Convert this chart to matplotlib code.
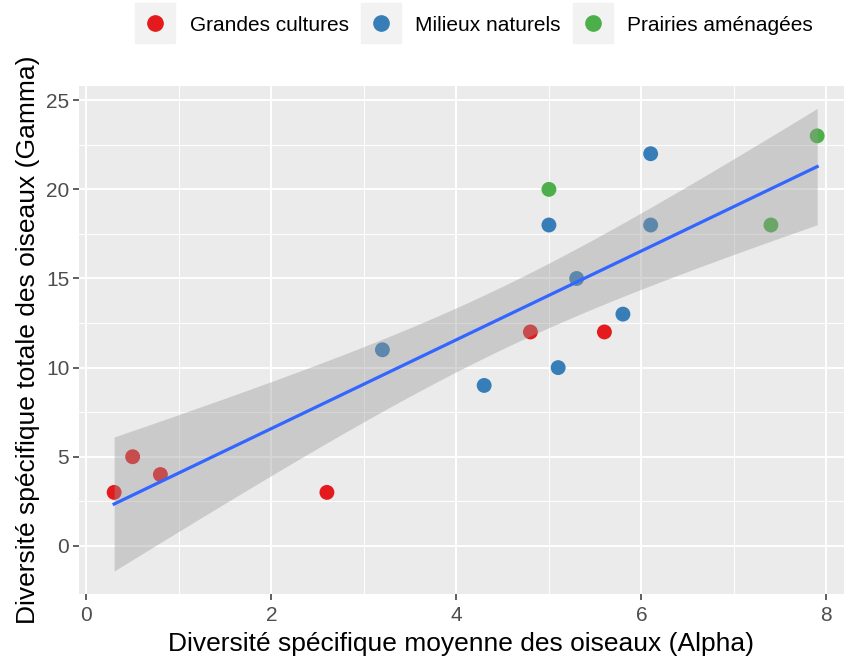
import numpy as np
import matplotlib
matplotlib.use('Agg')
import matplotlib.pyplot as plt
from matplotlib.lines import Line2D
from matplotlib.legend_handler import HandlerTuple

# DATA

GROUPS = ['Grandes cultures', 'Milieux naturels', 'Prairies aménagées']
ALPHA_GC = [0.3, 0.5, 0.8, 2.6, 4.8, 5.6]
GAMMA_GC = [3, 5, 4, 3, 12, 12]
ALPHA_MN = [3.2, 4.3, 5.0, 5.1, 5.3, 5.8, 6.1, 6.1]
GAMMA_MN = [11, 9, 18, 10, 15, 13, 22, 18]
ALPHA_PA = [5.0, 7.4, 7.9]
GAMMA_PA = [20, 18, 23]

# VISUAL PARAMETERS

COLOURS = ['#E41A1C', '#377EB8', '#4DAF4A']
LINE_COLOUR = '#3366FF'
PANEL_BG = '#EBEBEB'
TICK_COLOUR = '#4D4D4D'
T_975 = 2.131  # t quantile, 15 df

plt.rcParams['font.family'] = ['Liberation Sans', 'DejaVu Sans']

fig = plt.figure(figsize=(8.44, 6.65), dpi=100)
ax = fig.add_axes([0.0936, 0.1068, 0.9064, 0.7639])
ax.set_facecolor(PANEL_BG)
for s in ax.spines.values():
    s.set_visible(False)

xs = [ALPHA_GC, ALPHA_MN, ALPHA_PA]
ys = [GAMMA_GC, GAMMA_MN, GAMMA_PA]
for xv, yv, c in zip(xs, ys, COLOURS):
    ax.scatter(xv, yv, s=115, color=c, edgecolors='none', zorder=3)

# linear fit + 95% band (geom_smooth method='lm')
x_all = np.array(ALPHA_GC + ALPHA_MN + ALPHA_PA)
y_all = np.array(GAMMA_GC + GAMMA_MN + GAMMA_PA)
n = len(x_all)
b, a = np.polyfit(x_all, y_all, 1)
resid = y_all - (a + b * x_all)
s_err = np.sqrt(np.sum(resid ** 2) / (n - 2))
xg = np.linspace(x_all.min(), x_all.max(), 80)
yg = a + b * xg
se = s_err * np.sqrt(1 / n + (xg - x_all.mean()) ** 2 / np.sum((x_all - x_all.mean()) ** 2))
ax.fill_between(xg, yg - T_975 * se, yg + T_975 * se, color='#999999', alpha=0.4,
                linewidth=0, zorder=4)
ax.plot(xg, yg, color=LINE_COLOUR, linewidth=2.3, zorder=5)

ax.set_xlim(-0.08, 8.19)
ax.set_ylim(-2.7, 25.8)
ax.set_xticks([0, 2, 4, 6, 8])
ax.set_yticks([0, 5, 10, 15, 20, 25])
ax.set_xticks([1, 3, 5, 7], minor=True)
ax.set_yticks([2.5, 7.5, 12.5, 17.5, 22.5], minor=True)
ax.grid(which='major', color='white', linewidth=1.4, zorder=0)
ax.grid(which='minor', color='white', linewidth=0.7, zorder=0)
ax.set_axisbelow(True)
ax.tick_params(which='major', length=4, width=1.1, color='#333333',
               labelsize=15, labelcolor=TICK_COLOUR, pad=3)
ax.tick_params(axis='x', which='major', pad=5)
ax.tick_params(which='minor', length=0)

ax.set_xlabel('Diversité spécifique moyenne des oiseaux (Alpha)', fontsize=19, labelpad=5)
ax.set_ylabel('Diversité spécifique totale des oiseaux (Gamma)', fontsize=19, labelpad=4)

# legend with grey key boxes
handles = []
for c in COLOURS:
    bg = Line2D([], [], marker='s', markersize=29, color='#F2F2F2', linestyle='none')
    dot = Line2D([], [], marker='o', markersize=11, color=c, linestyle='none')
    handles.append((bg, dot))
fig.legend(handles, GROUPS, handler_map={tuple: HandlerTuple(ndivide=1)},
           loc='center', bbox_to_anchor=(0.562, 0.962), ncol=3, frameon=False,
           fontsize=15, handlelength=1.9, handletextpad=0.7, columnspacing=0.6)

plt.savefig('out.png', dpi=100)
